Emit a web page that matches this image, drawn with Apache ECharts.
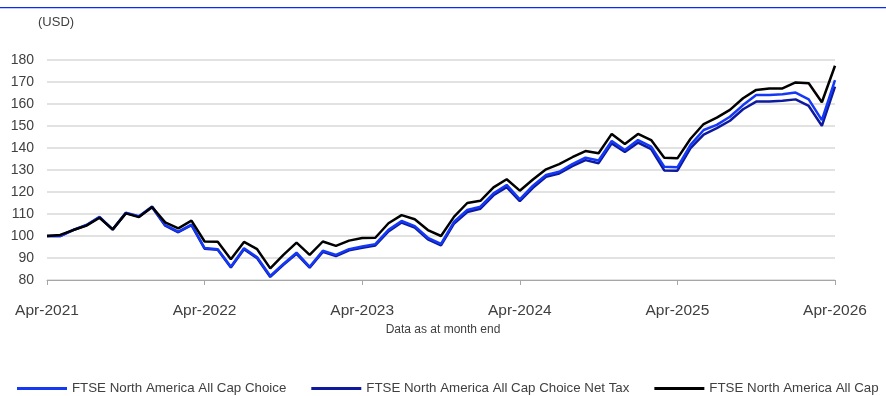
<!DOCTYPE html>
<html>
<head>
<meta charset="utf-8">
<script src="https://cdn.jsdelivr.net/npm/echarts@6/dist/echarts.min.js"></script>
<style>
  html, body { margin: 0; padding: 0; background: #fff; }
  #chart { width: 886px; height: 396px; }
</style>
</head>
<body>
<div id="chart"></div>
<script>
// Month-end index levels, rebased to 100 at Apr-2021 (USD)
const months = ['Jan','Feb','Mar','Apr','May','Jun','Jul','Aug','Sep','Oct','Nov','Dec'];
const categories = [];
for (let k = 0; k <= 60; k++) {
  const m = (3 + k) % 12;
  const y = 2021 + Math.floor((3 + k) / 12);
  categories.push(months[m] + '-' + y);
}

const seriesNames = [
  'FTSE North America All Cap Choice',
  'FTSE North America All Cap Choice Net Tax',
  'FTSE North America All Cap'
];

const allCapChoice = [
  100, 100, 102.8, 105, 108.7, 103, 110.6, 109, 113.4, 105, 102, 105.2,
  94.5, 94, 86, 94.4, 90.3, 81.8, 87.3, 92.4, 86, 93.3, 91.4, 94,
  95.2, 96.3, 102.8, 106.8, 104.5, 99.2, 96.4, 106.5, 111.8, 113.3, 119.4, 123.2,
  116.7, 122.9, 127.7, 129.2, 132.7, 135.6, 134.3, 143.2, 139.1, 143.6, 140.6, 131.5,
  131.2, 141.4, 148.2, 150.5, 154.2, 159.5, 164.1, 164.1, 164.4, 165.2, 162.1, 152.7,
  170.9
];

const allCapChoiceNetTax = [
  100, 100, 102.7, 104.9, 108.5, 102.9, 110.4, 108.8, 113.1, 104.7, 101.7, 104.9,
  94.2, 93.7, 85.7, 94, 89.9, 81.4, 86.9, 91.9, 85.6, 92.8, 90.9, 93.5,
  94.6, 95.7, 102.1, 106.1, 103.8, 98.5, 95.7, 105.7, 110.9, 112.4, 118.5, 122.2,
  115.8, 121.9, 126.9, 128.4, 131.8, 134.5, 133.1, 142.1, 138.2, 142.4, 139.5, 129.8,
  129.7, 139.9, 146.1, 149, 152.4, 157.6, 161.1, 161.1, 161.5, 162.1, 159.1, 150.1,
  167.9
];

const allCap = [
  100, 100.5, 102.7, 104.7, 108.3, 103, 110.3, 108.6, 113.2, 106.2, 103.5, 107,
  97.5, 97.4, 89.4, 97.3, 94, 85.3, 91.4, 97, 91.4, 97.5, 95.5, 97.9,
  99.1, 99.2, 105.8, 109.5, 107.6, 102.7, 100, 108.8, 115, 116, 122.1, 125.8,
  120.6, 125.7, 130.3, 132.7, 135.8, 138.6, 137.6, 146.4, 141.8, 146.4, 143.6, 135.6,
  135.3, 144.2, 150.9, 153.8, 157.3, 162.6, 166.4, 167, 167.1, 169.8, 169.4, 160.8,
  177.4
];

const colors = ['#1538F5', '#0D1A9E', '#000000'];
const FONT = 'Liberation Sans, Arial, sans-serif';

const chart = echarts.init(document.getElementById('chart'), null, { renderer: 'canvas' });

chart.setOption({
  animation: false,
  backgroundColor: '#ffffff',
  textStyle: { fontFamily: FONT },
  grid: { left: 47, right: 51, top: 60, bottom: 116, containLabel: false },
  graphic: [
    {
      type: 'rect',
      shape: { x: 0, y: 7, width: 886, height: 1.2 },
      style: { fill: '#0a2cf0' },
      silent: true
    },
    {
      type: 'text',
      left: 38, top: 16,
      style: { text: '(USD)', fill: '#404040', font: '13px ' + FONT }
    },
    {
      type: 'text',
      left: 'center', top: 324,
      style: { text: 'Data as at month end', fill: '#404040', font: '12px ' + FONT }
    }
  ],
  legend: {
    top: 382,
    left: 17,
    width: 2000,
    padding: 0,
    itemWidth: 50,
    itemHeight: 3,
    itemGap: 25,
    icon: 'rect',
    textStyle: { color: '#404040', fontSize: 13.3, fontFamily: FONT },
    data: seriesNames
  },
  xAxis: {
    type: 'category',
    data: categories,
    boundaryGap: false,
    axisLine: { lineStyle: { color: '#a6a6a6', width: 1 } },
    axisTick: {
      show: true,
      length: 5,
      lineStyle: { color: '#a6a6a6' },
      interval: (i) => i % 12 === 0
    },
    axisLabel: {
      interval: (i) => i % 12 === 0,
      color: '#404040',
      fontSize: 15.5,
      fontFamily: FONT,
      margin: 23
    },
    splitLine: { show: false }
  },
  yAxis: {
    type: 'value',
    min: 80,
    max: 180,
    interval: 10,
    axisLine: { show: false },
    axisTick: { show: false },
    axisLabel: { color: '#404040', fontSize: 14, fontFamily: FONT, margin: 13 },
    splitLine: { lineStyle: { color: '#d9d9d9', width: 1.5 } }
  },
  series: [
    {
      name: seriesNames[0], type: 'line', data: allCapChoice,
      symbol: 'none', z: 3,
      lineStyle: { color: colors[0], width: 2.5 }, itemStyle: { color: colors[0] }
    },
    {
      name: seriesNames[1], type: 'line', data: allCapChoiceNetTax,
      symbol: 'none', z: 2,
      lineStyle: { color: colors[1], width: 2.5 }, itemStyle: { color: colors[1] }
    },
    {
      name: seriesNames[2], type: 'line', data: allCap,
      symbol: 'none', z: 4,
      lineStyle: { color: colors[2], width: 2.5 }, itemStyle: { color: colors[2] }
    }
  ]
});
</script>
</body>
</html>
